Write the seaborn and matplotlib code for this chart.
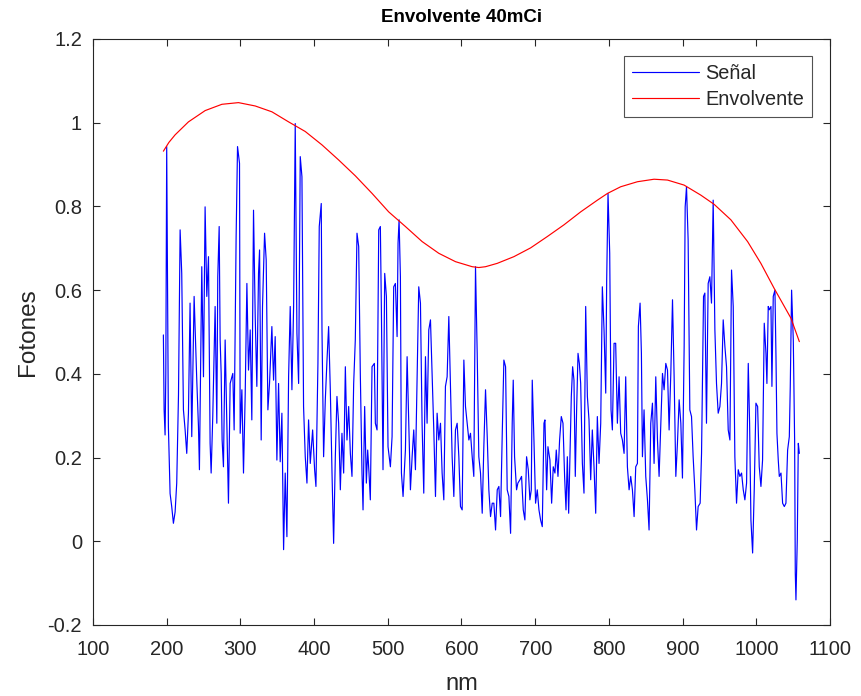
import matplotlib
matplotlib.use("Agg")
import matplotlib.pyplot as plt
import seaborn as sns
import numpy as np
import pandas as pd

# ---- data ----
signal_nm = [
    195.5, 196.5, 197.8, 198.8, 200.0, 202.3, 204.6, 206.8, 209.1, 211.4, 213.6, 216.0, 218.2, 220.4, 222.7,
    225.0, 227.2, 229.5, 231.7, 234.0, 237.2, 240.8, 243.1, 244.4, 246.2, 247.6, 249.9, 252.1, 254.4, 256.7,
    258.9, 260.3, 262.5, 265.7, 268.0, 269.3, 271.2, 272.5, 273.9, 275.2, 277.0, 279.3, 281.6, 283.8, 286.1,
    289.7, 291.5, 294.2, 296.1, 298.8,
    299.7, 302.0, 304.2, 306.5, 308.8, 311.0, 313.3, 315.5, 317.8, 320.1, 322.3, 324.6, 326.0, 328.2, 330.0,
    332.8, 335.0, 337.3, 339.5, 342.7, 345.0, 347.2, 349.5, 351.8, 354.0, 356.3, 358.6, 360.8, 363.1, 365.4,
    367.6, 369.9, 372.2, 374.4, 376.7, 379.0, 381.2, 383.5, 385.7, 388.0, 390.3, 392.5, 394.8, 398.0, 400.7,
    402.5, 405.2, 407.0, 409.7,
    410.7, 412.9, 415.2, 417.5, 419.7, 422.0, 424.3, 426.5, 428.8, 431.0, 433.3, 435.6, 437.8, 440.1, 442.4,
    444.6, 446.9, 449.2, 451.4, 453.7, 455.9, 458.2, 460.5, 462.7, 465.0, 466.4, 468.6, 470.9, 472.7, 474.5,
    476.3, 478.6, 481.8, 483.1, 485.4, 487.7, 489.9, 491.3, 493.5, 495.8, 498.1, 500.3, 503.5, 505.8, 508.0,
    510.3, 512.6, 513.9, 515.3, 517.1, 518.5, 520.7, 523.9, 526.2,
    530.7, 533.0, 535.2, 537.5, 539.8, 542.0, 544.3, 546.5, 548.8, 551.1, 553.3, 555.6, 557.9, 560.1, 562.4,
    564.7, 566.9, 569.2, 571.5, 573.7, 576.0, 578.2, 580.5, 582.8, 585.0, 587.3, 589.6, 591.8, 594.1, 596.4,
    598.6, 600.9, 603.2, 605.4, 607.7, 610.0, 612.2, 614.5, 616.7, 619.0, 621.3, 623.5, 625.8, 628.1, 630.3,
    632.6, 634.9, 637.1, 639.4, 641.7,
    643.9, 646.2, 648.5, 650.7, 653.0, 655.3, 657.5, 659.8, 662.0, 664.3, 666.6, 668.8, 670.2, 672.0, 674.7,
    676.5, 679.3, 681.5, 683.8, 686.0, 688.3, 690.6, 692.8, 694.7, 696.0, 698.3, 700.5, 702.8, 705.1, 707.3,
    709.6, 711.9, 713.2, 715.5, 717.3, 720.0, 722.3, 724.5, 726.8, 728.6, 730.9, 733.1, 735.4, 737.7, 739.9,
    741.8, 743.6, 745.4, 747.2, 749.0, 750.8, 752.6, 754.4, 756.2, 758.1, 759.9, 761.7,
    764.0, 766.2, 768.5, 770.8, 773.0, 775.3, 777.5, 779.8, 782.1, 784.3, 786.6, 788.9, 791.1, 793.4, 795.7,
    797.0, 798.8, 801.1, 802.9, 804.7, 807.0, 809.2, 811.5, 813.8, 816.0, 818.3, 820.6, 822.8, 825.1, 827.4,
    829.6, 831.9, 834.2, 836.4, 838.7, 840.0, 842.3, 844.1, 845.5, 847.7, 850.0, 852.3, 854.5, 856.8, 859.1,
    861.3, 863.6, 865.9, 868.1, 870.4, 872.7,
    874.9, 877.2, 879.5, 881.7, 884.0, 886.3, 888.5, 890.8, 893.0, 895.3, 897.6, 899.8, 902.1, 903.5, 905.3,
    907.5, 909.8, 912.1, 914.3, 916.6, 918.9, 921.1, 923.8, 925.7, 928.4, 930.2, 932.4, 934.7, 937.0, 939.2,
    941.5, 943.8, 946.0, 948.3, 950.6, 952.8, 955.1, 957.4, 959.6, 961.9, 964.2, 966.4, 968.7, 970.9, 973.2,
    975.5, 977.7, 980.0, 982.3, 984.5, 986.8, 989.1, 990.9,
    992.7, 995.0, 997.2, 999.5, 1001.8, 1004.0, 1006.3, 1008.5, 1010.8, 1013.1, 1014.4, 1016.2, 1017.6,
    1019.9, 1021.2, 1023.0, 1025.3, 1026.7, 1028.0, 1029.8, 1031.2, 1033.5, 1035.7, 1038.0, 1040.2, 1042.5,
    1044.8, 1046.1, 1047.9, 1050.2, 1052.0, 1052.9, 1053.8, 1055.6, 1057.0, 1058.4,
]
signal_val = [
    0.493, 0.314, 0.254, 0.40, 0.943, 0.274, 0.114, 0.083, 0.043, 0.07, 0.139, 0.35, 0.744, 0.640, 0.314,
    0.266, 0.210, 0.306, 0.569, 0.250, 0.585, 0.385, 0.274, 0.171, 0.441, 0.656, 0.393, 0.799, 0.585, 0.680,
    0.234, 0.163, 0.298, 0.561, 0.282, 0.632, 0.752, 0.481, 0.401, 0.242, 0.178, 0.481, 0.282, 0.091, 0.377,
    0.401, 0.266, 0.728, 0.943, 0.903,
    0.258, 0.362, 0.163, 0.35, 0.616, 0.409, 0.505, 0.290, 0.791, 0.537, 0.370, 0.640, 0.696, 0.242, 0.561,
    0.736, 0.672, 0.314, 0.377, 0.513, 0.385, 0.489, 0.194, 0.377, 0.190, 0.306, -0.020, 0.163, 0.011, 0.393,
    0.561, 0.362, 0.561, 0.998, 0.497, 0.377, 0.919, 0.871, 0.322, 0.202, 0.139, 0.290, 0.186, 0.266, 0.171,
    0.131, 0.425, 0.752, 0.807,
    0.505, 0.202, 0.338, 0.433, 0.513, 0.362, 0.163, -0.005, 0.202, 0.346, 0.282, 0.123, 0.258, 0.163, 0.417,
    0.242, 0.322, 0.210, 0.155, 0.377, 0.481, 0.736, 0.704, 0.401, 0.163, 0.075, 0.322, 0.139, 0.218, 0.163,
    0.099, 0.417, 0.425, 0.282, 0.266, 0.744, 0.752, 0.553, 0.171, 0.640, 0.585, 0.226, 0.178, 0.250, 0.608,
    0.616, 0.489, 0.712, 0.768, 0.632, 0.163, 0.107, 0.218, 0.441,
    0.123, 0.202, 0.266, 0.171, 0.401, 0.608, 0.569, 0.282, 0.115, 0.441, 0.282, 0.505, 0.529, 0.401, 0.266,
    0.107, 0.306, 0.242, 0.282, 0.163, 0.099, 0.370, 0.393, 0.537, 0.377, 0.202, 0.107, 0.266, 0.282, 0.202,
    0.083, 0.075, 0.433, 0.322, 0.282, 0.242, 0.258, 0.202, 0.155, 0.656, 0.449, 0.202, 0.163, 0.067, 0.226,
    0.362, 0.250, 0.123, 0.059, 0.091,
    0.091, 0.027, 0.123, 0.131, 0.059, 0.258, 0.433, 0.417, 0.123, 0.107, 0.019, 0.282, 0.385, 0.202, 0.123,
    0.139, 0.147, 0.155, 0.075, 0.051, 0.202, 0.171, 0.099, 0.123, 0.385, 0.242, 0.091, 0.123, 0.075, 0.051,
    0.035, 0.282, 0.290, 0.123, 0.226, 0.194, 0.091, 0.178, 0.163, 0.218, 0.155, 0.242, 0.298, 0.282, 0.155,
    0.075, 0.202, 0.067, 0.202, 0.346, 0.417, 0.385, 0.155, 0.314, 0.449, 0.425, 0.377,
    0.186, 0.115, 0.561, 0.346, 0.290, 0.147, 0.266, 0.178, 0.067, 0.298, 0.186, 0.282, 0.608, 0.505, 0.354,
    0.624, 0.831, 0.688, 0.314, 0.266, 0.473, 0.473, 0.282, 0.393, 0.258, 0.242, 0.210, 0.393, 0.178, 0.123,
    0.155, 0.123, 0.059, 0.178, 0.186, 0.513, 0.569, 0.449, 0.202, 0.314, 0.155, 0.099, 0.027, 0.282, 0.330,
    0.186, 0.393, 0.242, 0.155, 0.282, 0.401,
    0.362, 0.425, 0.409, 0.266, 0.401, 0.577, 0.393, 0.155, 0.234, 0.338, 0.282, 0.151, 0.465, 0.799, 0.847,
    0.720, 0.314, 0.298, 0.202, 0.123, 0.027, 0.083, 0.091, 0.210, 0.585, 0.593, 0.282, 0.616, 0.632, 0.569,
    0.815, 0.505, 0.377, 0.306, 0.322, 0.377, 0.529, 0.465, 0.417, 0.266, 0.242, 0.648, 0.561, 0.202, 0.091,
    0.171, 0.155, 0.163, 0.123, 0.099, 0.139, 0.425, 0.282,
    0.051, -0.028, 0.123, 0.330, 0.322, 0.178, 0.131, 0.194, 0.521, 0.449, 0.377, 0.561, 0.553,
    0.561, 0.370, 0.585, 0.600, 0.441, 0.258, 0.194, 0.155, 0.163, 0.091, 0.083, 0.091, 0.218,
    0.250, 0.370, 0.600, 0.481, 0.242, -0.076, -0.140, 0.003, 0.234, 0.210,
]

env_nm = [195.5, 203.0, 211.4, 229.5, 252.2, 274.9, 297.4, 320.1, 342.8, 365.4, 388.0, 410.7, 433.3,
          456.0, 478.7, 501.2, 523.9, 546.6, 569.2, 591.9, 614.5, 623.5, 632.6, 648.5, 671.1, 693.8,
          716.4, 739.0, 761.7, 784.4, 798.0, 816.0, 838.7, 861.3, 879.5, 902.0, 924.7, 942.8, 965.5,
          988.2, 1006.2, 1024.3, 1047.0, 1058.4]
env_val = [0.932, 0.953, 0.971, 1.002, 1.029, 1.044, 1.048, 1.040, 1.026, 1.002, 0.979, 0.947, 0.911,
           0.873, 0.831, 0.787, 0.752, 0.716, 0.688, 0.668, 0.656, 0.654, 0.656, 0.664, 0.680, 0.701,
           0.728, 0.756, 0.787, 0.815, 0.831, 0.847, 0.859, 0.865, 0.863, 0.851, 0.827, 0.805, 0.768,
           0.716, 0.664, 0.604, 0.533, 0.477]

x_ticks = list(range(100, 1101, 100))
y_ticks = [-0.2, 0, 0.2, 0.4, 0.6, 0.8, 1.0, 1.2]
y_tick_labels = ["-0.2", "0", "0.2", "0.4", "0.6", "0.8", "1", "1.2"]

sig_df = pd.DataFrame({"nm": signal_nm, "Fotones": signal_val})
env_df = pd.DataFrame({"nm": env_nm, "Fotones": env_val})

sns.set_theme(style="white")
plt.rcParams["font.family"] = ["Liberation Sans", "DejaVu Sans"]

fig = plt.figure(figsize=(8.62, 6.96), dpi=100)
ax = fig.add_axes([93 / 862, 1 - 625 / 696, (830 - 93) / 862, (625 - 39) / 696])

sns.lineplot(data=sig_df, x="nm", y="Fotones", color="#0000ff", linewidth=0.85,
             label="Señal", estimator=None, sort=False, ax=ax)
sns.lineplot(data=env_df, x="nm", y="Fotones", color="#ff0000", linewidth=0.85,
             label="Envolvente", estimator=None, sort=False, ax=ax)

ax.set_xlim(100, 1100)
ax.set_ylim(-0.2, 1.2)
ax.set_xticks(x_ticks)
ax.set_xticklabels([str(t) for t in x_ticks])
ax.set_yticks(y_ticks)
ax.set_yticklabels(y_tick_labels)

axcol = "#262626"
for s in ax.spines.values():
    s.set_visible(True)
    s.set_color(axcol)
    s.set_linewidth(0.8)
ax.tick_params(axis="both", direction="in", length=5, width=0.8, colors=axcol,
               labelsize=14.5, top=True, right=True, bottom=True, left=True,
               labeltop=False, labelright=False)
ax.tick_params(axis="x", pad=11)
ax.tick_params(axis="y", pad=8)
for lab in ax.get_xticklabels() + ax.get_yticklabels():
    lab.set_color(axcol)

ax.set_xlabel("nm", fontsize=17, color=axcol, labelpad=10)
ax.set_ylabel("Fotones", fontsize=17.5, color=axcol, labelpad=6)
ax.set_title("Envolvente 40mCi", fontsize=13.5, fontweight="bold", color="black", pad=12.5)

leg = ax.legend(loc="upper right", bbox_to_anchor=(0.9756, 0.971), fontsize=14.3,
                frameon=True, fancybox=False, edgecolor=axcol, handlelength=3.4,
                borderpad=0.4, labelspacing=0.35, handletextpad=0.3, borderaxespad=0)
leg.get_frame().set_linewidth(0.8)
for t in leg.get_texts():
    t.set_color(axcol)

fig.savefig("out.png", dpi=100, facecolor="white")
